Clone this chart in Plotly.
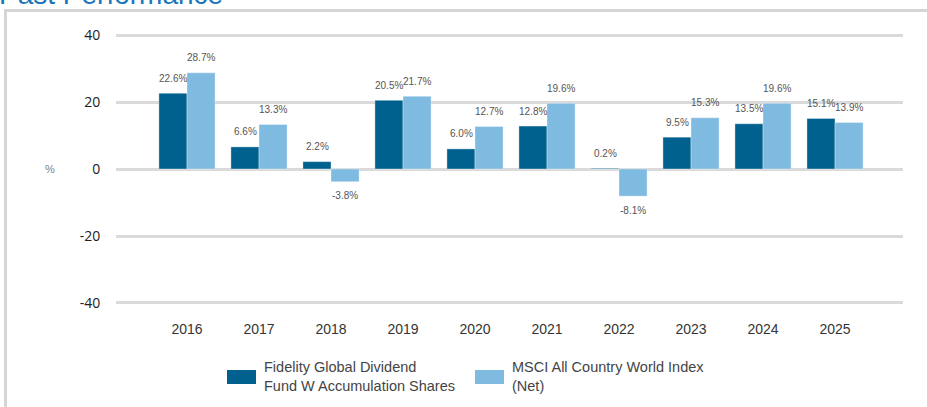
import plotly.graph_objects as go

years = ["2016", "2017", "2018", "2019", "2020", "2021", "2022", "2023", "2024", "2025"]
fund = [22.6, 6.6, 2.2, 20.5, 6.0, 12.8, 0.2, 9.5, 13.5, 15.1]
index = [28.7, 13.3, -3.8, 21.7, 12.7, 19.6, -8.1, 15.3, 19.6, 13.9]
fund_name = "Fidelity Global Dividend<br>Fund W Accumulation Shares"
index_name = "MSCI All Country World Index<br>(Net)"
y_ticks = [-40, -20, 0, 20, 40]
y_tick_text = ["-40", "-20", "0", "20", "40"]

dark = "#00618F"
light = "#7FBAE0"

W, H = 927, 407
L, R = 116, 903
T, B = 33, 305

def xp(px):
    return (px - L) / (R - L)

def yp(py):
    return (B - py) / (B - T)

fig = go.Figure()
fig.add_bar(x=years, y=fund, name=fund_name, marker_color=dark,
            marker_line=dict(color="rgba(255,255,255,0.35)", width=1), showlegend=False)
fig.add_bar(x=years, y=index, name=index_name, marker_color=light,
            marker_line=dict(color="rgba(255,255,255,0.35)", width=1), showlegend=False)

label_font = dict(family="Liberation Sans", size=10, color="#555555")
annotations = []
for i, v in enumerate(fund):
    annotations.append(dict(x=i, y=v, xref="x", yref="y", text=f"{v:.1f}%", showarrow=False,
                            xshift=-14, yshift=15 if v >= 0 else -14, yanchor="middle",
                            font=label_font))
for i, v in enumerate(index):
    annotations.append(dict(x=i, y=v, xref="x", yref="y", text=f"{v:.1f}%", showarrow=False,
                            xshift=14, yshift=15 if v >= 0 else -14, yanchor="middle",
                            font=label_font))

# % axis label
annotations.append(dict(x=xp(50), y=yp(169), xref="paper", yref="paper", text="%", showarrow=False,
                        xanchor="center", yanchor="middle",
                        font=dict(family="Liberation Sans", size=11, color="#808080")))
# cropped title
annotations.append(dict(x=xp(-3), y=yp(12), xref="paper", yref="paper", text="Past Performance",
                        showarrow=False, xanchor="left", yanchor="bottom",
                        font=dict(family="Liberation Sans", size=28, color="#1B75BB")))
# legend text
annotations.append(dict(x=xp(262), y=yp(376), xref="paper", yref="paper", text=fund_name,
                        showarrow=False, xanchor="left", yanchor="middle", align="left",
                        font=dict(family="Liberation Sans", size=14.5, color="#444444")))
annotations.append(dict(x=xp(510), y=yp(376), xref="paper", yref="paper", text=index_name,
                        showarrow=False, xanchor="left", yanchor="middle", align="left",
                        font=dict(family="Liberation Sans", size=14.5, color="#444444")))

shapes = [
    # frame
    dict(type="line", xref="paper", yref="paper", x0=xp(5.5), x1=xp(5.5), y0=yp(9), y1=yp(410),
         line=dict(color="#D5D5D5", width=3)),
    dict(type="line", xref="paper", yref="paper", x0=xp(4), x1=xp(930), y0=yp(10.5), y1=yp(10.5),
         line=dict(color="#D5D5D5", width=3)),
    # legend swatches
    dict(type="rect", xref="paper", yref="paper", x0=xp(227), x1=xp(256), y0=yp(370), y1=yp(384),
         fillcolor=dark, line=dict(width=0)),
    dict(type="rect", xref="paper", yref="paper", x0=xp(475), x1=xp(504), y0=yp(370), y1=yp(384),
         fillcolor=light, line=dict(width=0)),
]

fig.update_layout(
    width=W, height=H,
    margin=dict(l=L, r=W - R, t=T, b=H - B),
    paper_bgcolor="white", plot_bgcolor="white",
    barmode="group", bargap=0.22, bargroupgap=0,
    annotations=annotations, shapes=shapes,
    xaxis=dict(type="category", range=[-0.986, 9.944], showgrid=False, showline=False,
               ticks="outside", ticklen=11, tickcolor="rgba(0,0,0,0)",
               tickfont=dict(family="Liberation Sans", size=14, color="#333333")),
    yaxis=dict(range=[-40.6, 40.6], tickvals=y_ticks, ticktext=y_tick_text,
               showgrid=True, gridcolor="#DADADA", gridwidth=2.5,
               zeroline=True, zerolinecolor="#DADADA", zerolinewidth=2.5, showline=False,
               ticks="outside", ticklen=12, tickcolor="rgba(0,0,0,0)",
               tickfont=dict(family="Open Sans", size=14, color="#222222")),
)

fig.write_html("out.html", config={"displayModeBar": False},
               post_script="document.body.style.margin='0';document.body.style.overflow='hidden';")
